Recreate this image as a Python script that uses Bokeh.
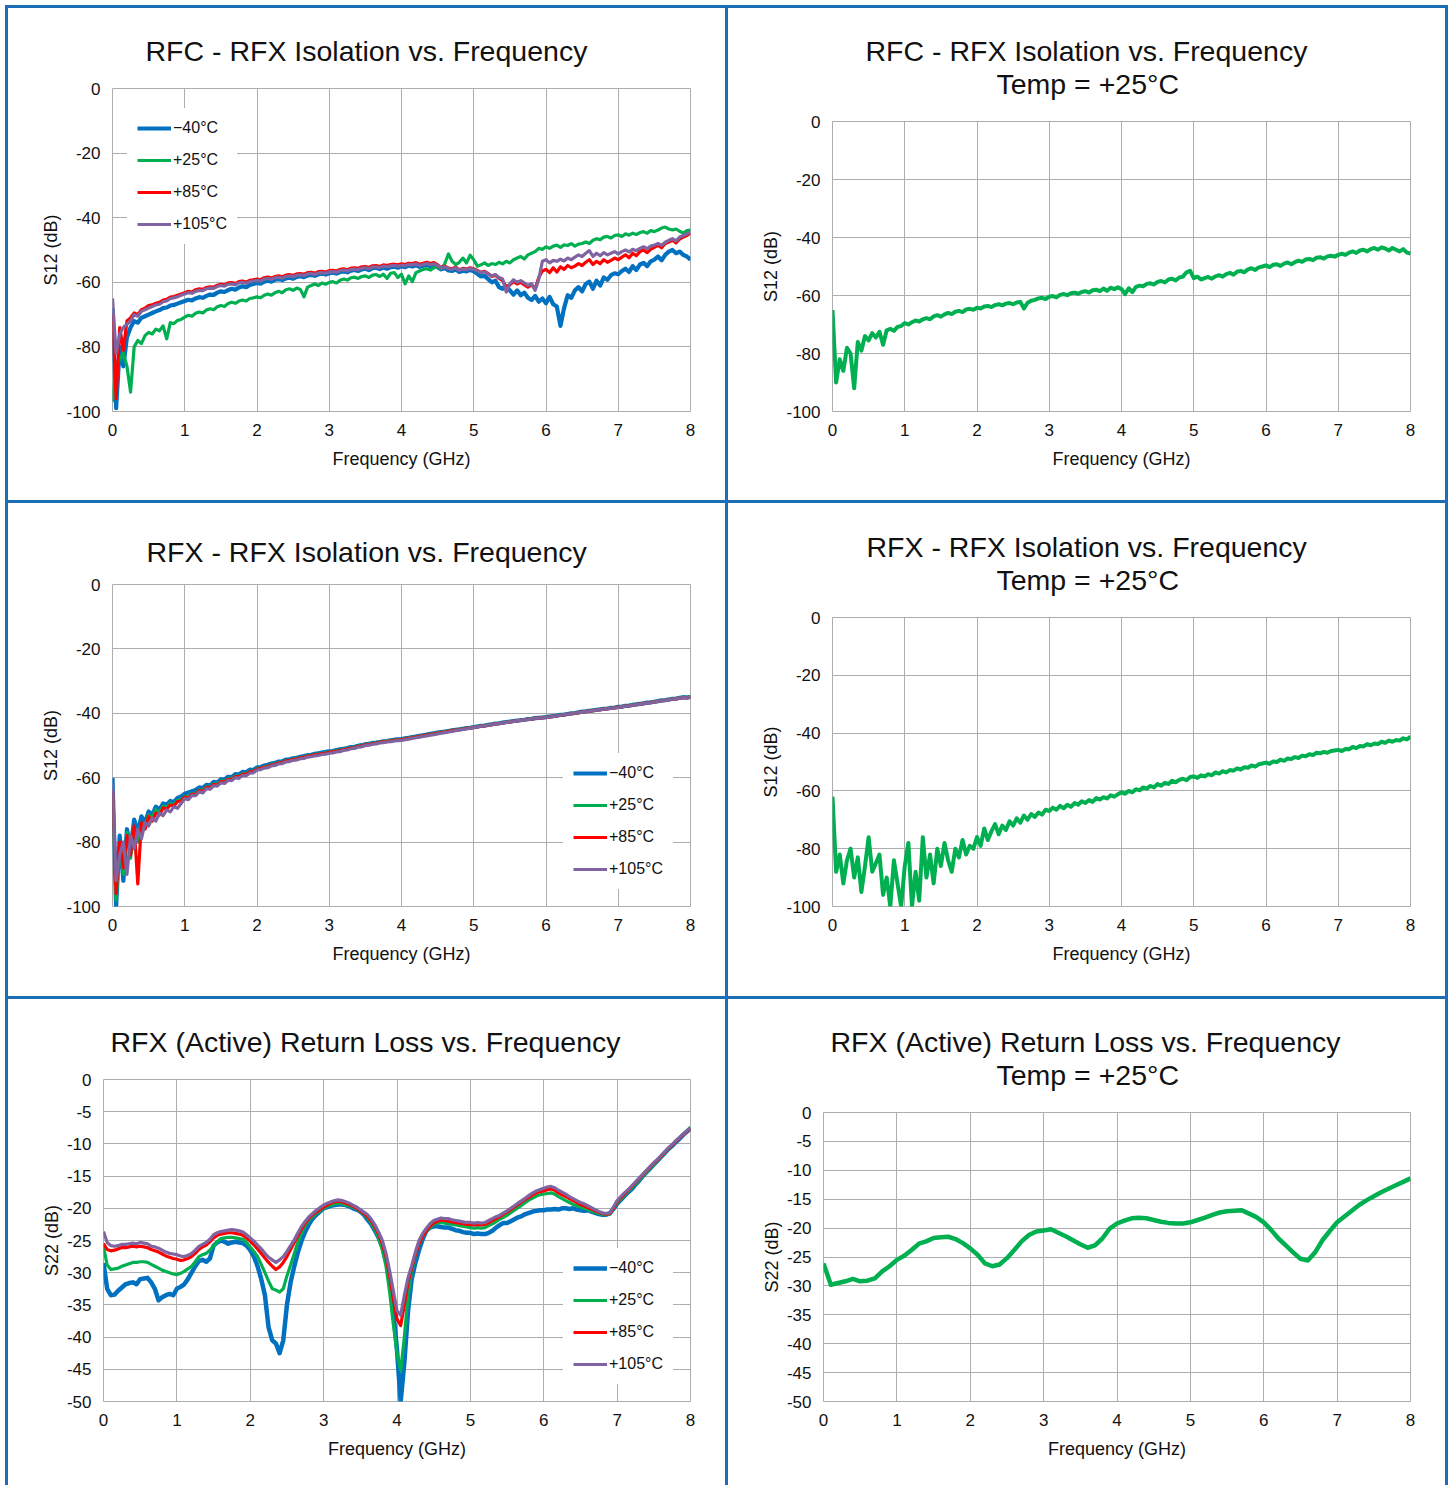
from bokeh.plotting import figure
from bokeh.models import Range1d, FixedTicker, Title
from bokeh.layouts import column, row
from bokeh.embed import file_html
from bokeh.resources import INLINE

# ---------------- data ----------------
FREQ_GHZ = [round(i * 0.05, 2) for i in range(161)]        # 0 .. 8 GHz, 50 MHz grid
FREQ_GHZ_COARSE = [round(i * 0.1, 1) for i in range(81)]   # 0 .. 8 GHz, 100 MHz grid

TEMP_LABELS = ["\u221240\u00b0C", "+25\u00b0C", "+85\u00b0C", "+105\u00b0C"]
TEMP_COLORS = ["#0070C0", "#00B050", "#FF0000", "#8064A2"]

X_TICKS = [0, 1, 2, 3, 4, 5, 6, 7, 8]
ISO_TICKS = [-100, -80, -60, -40, -20, 0]
RL_TICKS = [-50, -45, -40, -35, -30, -25, -20, -15, -10, -5, 0]

# RFC - RFX isolation, S12 (dB), all temperatures
RFC_ISO_M40 = [
    -68, -99, -80, -86, -77, -74, -72, -72.5, -71, -70.5, -70, -69.5, -69, -68.6, -68, -67.8, -67.2, -67, -66.6, -66.2,
    -65.8, -65.4, -65.6, -65.0, -64.6, -64.8, -64.2, -63.8, -63.9, -63.2, -62.8, -63.0, -62.4, -62.0, -62.3, -61.6, -61.2, -61.5, -60.8, -60.5,
    -60.2, -60.4, -59.8, -59.5, -59.8, -59.2, -59.0, -59.3, -58.8, -58.6, -58.9, -58.3, -58.1, -58.4, -57.9, -57.7, -58.0, -57.5, -57.3, -57.6,
    -57.2, -57.0, -57.3, -56.8, -56.6, -56.9, -56.4, -56.2, -56.5, -56.0, -55.8, -56.2, -55.6, -55.5, -55.9, -55.4, -55.8, -55.3, -55.2, -55.5,
    -55.0, -55.3, -54.8, -55.1, -54.7, -55.2, -54.9, -54.6, -55.0, -54.8, -55.3, -56.0, -55.6, -56.3, -56.5, -56.0, -56.8, -56.4, -56.6, -56.2,
    -56.6, -57.4, -58.2, -58.0, -59.0, -60.0, -59.5, -61.5, -62.0, -61.2, -62.5, -63.8, -62.5, -64.0, -63.2, -64.8, -65.5, -64.2, -66.0, -65.0,
    -66.5, -64.5, -66.8, -67.5, -73.5, -68.0, -64.0, -64.8, -62.5, -61.5, -62.8, -60.5, -59.8, -62.0, -59.5, -61.0, -58.5, -59.2, -57.8, -57.2,
    -57.5, -56.5, -55.8, -56.8, -55.0, -56.2, -54.5, -54.0, -55.0, -53.5, -53.0, -52.0, -53.2, -51.5, -50.5, -50.0, -51.0, -50.5, -51.5, -52.0,
    -53.0]
RFC_ISO_P25 = [
    -97, -85, -84, -82, -86, -94, -80, -78, -79, -76.5, -75.5, -76, -74.5, -75, -73.5, -77.5, -72.5, -72.8, -71.8, -71.5,
    -70.8, -70.2, -70.5, -69.6, -69.2, -69.5, -68.6, -68.2, -68.5, -67.6, -67.2, -67.5, -66.6, -66.2, -66.5, -65.8, -65.5, -65.8, -65.0, -64.8,
    -64.5, -64.8, -64.0, -63.6, -64.0, -63.2, -62.8, -63.2, -62.3, -62.0, -62.5, -61.8, -62.2, -64.5, -61.5, -61.0, -60.5, -61.0, -60.2, -60.6,
    -60.0, -59.8, -60.2, -59.4, -59.0, -59.3, -58.6, -58.4, -58.8, -58.2, -58.0, -58.5, -57.8, -57.6, -58.2, -57.5, -58.8, -57.2, -57.0, -58.5,
    -57.5, -60.5, -58.0, -59.8, -57.0, -56.5, -56.0, -55.8, -56.2, -55.5, -55.2, -55.8, -54.2, -51.2, -53.5, -54.5, -53.8, -52.5, -54.0, -51.6,
    -53.0, -55.0, -54.6, -54.0, -54.8, -54.2, -54.5, -53.8, -54.3, -53.5, -54.0, -53.0, -52.5, -52.0, -52.8, -51.5, -51.0, -50.5, -49.5, -49.8,
    -49.0, -49.5, -48.8, -48.5, -49.2, -48.4, -48.6, -48.0, -48.8, -48.2, -48.0, -47.5, -48.0, -47.0, -46.5, -46.8, -46.0, -45.8, -46.3, -45.5,
    -45.3, -45.8, -45.0, -45.4, -44.8, -45.2, -44.6, -44.3, -44.8, -44.0, -44.3, -43.8, -43.2, -42.9, -43.5, -43.8, -43.5, -44.2, -44.8, -44.0,
    -43.8]
RFC_ISO_P85 = [
    -70, -96, -74, -81, -72, -71, -69.5, -70, -68.5, -68, -67.2, -67, -66.5, -66.2, -65.5, -65.3, -64.6, -64.4, -64.0, -63.6,
    -63.2, -62.8, -63.0, -62.3, -62.0, -62.2, -61.6, -61.4, -61.5, -60.9, -60.6, -60.8, -60.2, -60.1, -60.4, -59.8, -59.6, -59.9, -59.4, -59.2,
    -59.0, -59.2, -58.6, -58.4, -58.7, -58.2, -58.0, -58.3, -57.8, -57.6, -57.9, -57.4, -57.3, -57.5, -57.0, -56.9, -57.2, -56.7, -56.6, -56.8,
    -56.4, -56.3, -56.5, -56.0, -55.8, -56.1, -55.6, -55.5, -55.7, -55.2, -55.1, -55.4, -54.9, -54.8, -55.1, -54.6, -54.8, -54.5, -54.4, -54.6,
    -54.3, -54.5, -54.1, -54.2, -53.9, -54.4, -54.1, -53.8, -54.2, -53.9, -54.6, -55.4, -55.0, -55.6, -55.8, -55.3, -56.1, -55.7, -55.9, -55.5,
    -55.8, -56.3, -56.9, -56.6, -57.3, -58.2, -57.8, -58.8, -59.5, -61.5, -60.8, -59.8, -60.5, -60.0, -60.8, -61.5, -60.8, -62.0, -58.5, -56.5,
    -56.0, -57.0, -55.5, -56.8, -55.2, -56.0, -54.8, -55.5, -55.0, -54.2, -54.8, -53.8, -53.0, -54.5, -53.5, -54.2, -53.0, -53.8, -53.2, -52.5,
    -53.0, -52.2, -51.5, -52.4, -51.0, -51.8, -50.5, -50.0, -50.8, -49.8, -49.2, -48.5, -49.3, -48.0, -47.5, -47.0, -47.8, -46.6, -46.0, -45.5,
    -44.8]
RFC_ISO_P105 = [
    -65, -82, -76, -74, -73, -72, -70, -70.5, -69, -68.5, -68, -67.5, -67, -66.8, -66, -65.8, -65, -64.8, -64.5, -64,
    -63.6, -63.2, -63.4, -62.8, -62.5, -62.6, -62.0, -61.8, -61.9, -61.3, -61.0, -61.2, -60.6, -60.5, -60.8, -60.2, -60.0, -60.3, -59.8, -59.6,
    -59.4, -59.6, -59.0, -58.8, -59.1, -58.6, -58.4, -58.7, -58.2, -58.0, -58.3, -57.8, -57.7, -57.9, -57.4, -57.3, -57.6, -57.1, -57.0, -57.2,
    -56.8, -56.7, -56.9, -56.4, -56.2, -56.5, -56.0, -55.9, -56.1, -55.6, -55.5, -55.8, -55.3, -55.2, -55.5, -55.0, -55.2, -54.9, -54.8, -55.0,
    -54.7, -54.9, -54.5, -54.6, -54.3, -54.8, -54.5, -54.2, -54.6, -54.3, -54.8, -55.6, -55.2, -55.8, -56.0, -55.5, -56.3, -55.9, -56.1, -55.7,
    -56.0, -56.5, -57.0, -56.8, -57.5, -58.0, -57.6, -58.5, -59.0, -63.0, -60.5, -59.2, -60.0, -59.5, -60.2, -61.0, -60.4, -62.5, -59.0, -53.5,
    -53.0, -54.0, -53.2, -53.5, -52.8, -53.4, -52.5, -53.0, -52.2, -51.5, -52.0, -51.0, -50.2, -52.0, -51.0, -51.8, -50.8, -51.5, -51.0, -50.5,
    -51.2, -50.5, -50.0, -50.6, -49.8, -50.2, -49.5, -49.0, -49.6, -48.8, -48.5, -48.0, -48.5, -47.6, -47.0, -46.5, -47.2, -46.0, -45.5, -45.0,
    -44.5]

# RFC - RFX isolation, +25 C
RFC_ISO_25C = [
    -65, -90, -82, -86, -78, -80, -92, -76, -79, -74, -75.5, -73, -74.5, -72.5, -77, -72, -71.5, -72.2, -70.8, -70.5,
    -69.5, -70.0, -69.2, -68.6, -69.0, -68.2, -67.8, -68.2, -67.2, -66.8, -67.3, -66.5, -66.0, -66.4, -65.6, -65.3, -65.7, -64.8, -64.6, -64.9,
    -64.2, -64.5, -63.8, -63.6, -64.0, -63.3, -63.0, -63.4, -62.8, -62.6, -63.0, -62.4, -62.2, -64.5, -62.5, -61.8, -61.5, -61.0, -60.8, -61.2,
    -60.4, -60.2, -60.6, -59.8, -59.5, -59.9, -59.2, -59.0, -59.4, -58.8, -58.5, -59.0, -58.2, -58.0, -58.5, -57.6, -58.4, -57.3, -57.8, -57.2,
    -57.8, -59.5, -57.5, -58.8, -57.0, -56.6, -56.8, -56.0, -55.8, -56.2, -55.3, -55.0, -55.5, -54.5, -54.2, -54.8, -53.8, -53.5, -52.0, -51.5,
    -54.0, -53.5, -54.5, -54.0, -53.6, -54.2, -53.4, -53.0, -53.5, -52.6, -52.2, -52.8, -51.8, -51.5, -52.0, -51.0, -50.6, -51.2, -50.3, -50.0,
    -49.6, -50.2, -49.4, -49.2, -49.8, -49.0, -48.6, -49.2, -48.5, -48.0, -48.4, -47.6, -47.4, -47.8, -47.0, -46.8, -47.3, -46.5, -46.3, -46.6,
    -46.0, -45.6, -46.0, -45.2, -44.8, -45.3, -44.5, -44.2, -44.8, -44.0, -43.6, -44.2, -43.4, -43.8, -44.5, -43.6, -44.2, -44.8, -44.0, -45.2,
    -45.5]

# RFX - RFX isolation, all temperatures
RFX_ISO_M40 = [
    -60, -100, -78, -92, -76, -82, -73, -77, -72, -74, -70.5, -71.5, -69, -70, -68, -68.3, -67.2, -67.6, -66.3, -65.8,
    -65.0, -64.6, -64.2, -63.8, -63.0, -63.2, -62.2, -62.4, -61.3, -61.5, -60.5, -60.6, -59.7, -59.8, -58.9, -59.0, -58.2, -58.3, -57.5, -57.6,
    -56.8, -56.7, -56.2, -56.0, -55.6, -55.4, -55.0, -54.9, -54.4, -54.3, -54.0, -53.8, -53.5, -53.3, -53.0, -52.9, -52.6, -52.4, -52.2, -52.0,
    -51.8, -51.7, -51.4, -51.2, -51.0, -50.8, -50.5, -50.4, -50.1, -49.9, -49.6, -49.5, -49.2, -49.1, -48.9, -48.7, -48.6, -48.4, -48.2, -48.1,
    -48.0, -47.8, -47.6, -47.4, -47.2, -47.0, -46.8, -46.6, -46.4, -46.2, -46.0, -45.8, -45.7, -45.5, -45.3, -45.1, -45.0, -44.8, -44.6, -44.5,
    -44.3, -44.1, -43.9, -43.8, -43.6, -43.4, -43.2, -43.1, -42.9, -42.7, -42.6, -42.4, -42.3, -42.1, -42.0, -41.8, -41.7, -41.5, -41.4, -41.3,
    -41.2, -41.0, -40.9, -40.7, -40.5, -40.4, -40.2, -40.0, -39.9, -39.7, -39.5, -39.4, -39.2, -39.1, -38.9, -38.8, -38.6, -38.5, -38.3, -38.2,
    -38.0, -37.9, -37.7, -37.6, -37.4, -37.2, -37.1, -36.9, -36.7, -36.6, -36.4, -36.2, -36.0, -35.9, -35.7, -35.5, -35.4, -35.2, -35.0, -35.1,
    -34.9]
RFX_ISO_P25 = [
    -66, -98, -82, -90, -77, -85, -76, -80, -74, -75, -71.5, -72.5, -70, -70.8, -68.8, -69.2, -68, -68.3, -67, -66.8,
    -65.8, -66.0, -64.9, -65.0, -63.8, -64.0, -62.8, -63.0, -61.9, -62.0, -61.0, -61.2, -60.2, -60.3, -59.4, -59.6, -58.7, -58.8, -58.0, -58.0,
    -57.2, -57.1, -56.6, -56.4, -55.9, -55.8, -55.3, -55.2, -54.7, -54.6, -54.2, -54.1, -53.7, -53.6, -53.2, -53.1, -52.8, -52.7, -52.4, -52.3,
    -52.0, -51.9, -51.6, -51.5, -51.2, -51.0, -50.7, -50.6, -50.2, -50.1, -49.7, -49.6, -49.3, -49.2, -48.9, -48.8, -48.6, -48.5, -48.3, -48.2,
    -48.1, -47.9, -47.7, -47.5, -47.3, -47.1, -46.9, -46.7, -46.5, -46.3, -46.1, -45.9, -45.7, -45.5, -45.3, -45.2, -45.0, -44.8, -44.6, -44.5,
    -44.3, -44.1, -44.0, -43.8, -43.6, -43.5, -43.3, -43.1, -43.0, -42.8, -42.6, -42.5, -42.3, -42.1, -42.0, -41.9, -41.7, -41.6, -41.5, -41.3,
    -41.2, -41.1, -40.9, -40.8, -40.6, -40.4, -40.3, -40.1, -39.9, -39.8, -39.6, -39.4, -39.3, -39.1, -39.0, -38.8, -38.7, -38.5, -38.4, -38.2,
    -38.1, -37.9, -37.8, -37.6, -37.4, -37.3, -37.1, -36.9, -36.8, -36.6, -36.4, -36.3, -36.1, -35.9, -35.8, -35.6, -35.4, -35.3, -35.1, -35.0,
    -35.0]
RFX_ISO_P85 = [
    -64, -96, -80, -88, -78, -84, -75, -93, -74, -76, -72, -73.5, -71, -71.6, -69.4, -69.8, -68.5, -68.8, -67.4, -67.2,
    -66.0, -66.3, -65.1, -65.3, -64.0, -64.3, -63.0, -63.2, -62.1, -62.3, -61.2, -61.4, -60.4, -60.6, -59.6, -59.8, -58.9, -59.0, -58.2, -58.1,
    -57.3, -57.2, -56.7, -56.6, -56.0, -55.9, -55.4, -55.3, -54.8, -54.7, -54.3, -54.2, -53.8, -53.7, -53.3, -53.2, -52.9, -52.8, -52.5, -52.4,
    -52.1, -52.0, -51.7, -51.6, -51.3, -51.1, -50.8, -50.7, -50.3, -50.2, -49.8, -49.7, -49.4, -49.3, -49.0, -48.9, -48.7, -48.6, -48.4, -48.3,
    -48.2, -48.0, -47.8, -47.6, -47.4, -47.2, -47.0, -46.8, -46.6, -46.4, -46.2, -46.0, -45.8, -45.6, -45.4, -45.2, -45.1, -44.9, -44.7, -44.6,
    -44.4, -44.2, -44.0, -43.9, -43.7, -43.5, -43.3, -43.2, -43.0, -42.8, -42.7, -42.5, -42.3, -42.2, -42.0, -41.9, -41.8, -41.6, -41.5, -41.4,
    -41.3, -41.1, -41.0, -40.8, -40.6, -40.5, -40.3, -40.1, -40.0, -39.8, -39.6, -39.5, -39.3, -39.2, -39.0, -38.9, -38.7, -38.6, -38.4, -38.3,
    -38.1, -38.0, -37.8, -37.6, -37.5, -37.3, -37.1, -37.0, -36.8, -36.6, -36.5, -36.3, -36.1, -36.0, -35.8, -35.6, -35.5, -35.3, -35.1, -35.2,
    -35.0]
RFX_ISO_P105 = [
    -62, -92, -84, -80, -90, -78, -82, -76, -79, -74, -75, -72.5, -73.5, -71, -71.8, -70, -70.6, -69, -69.5, -68,
    -66.5, -66.8, -65.5, -65.6, -64.4, -64.7, -63.4, -63.6, -62.5, -62.6, -61.6, -61.8, -60.8, -60.9, -60.0, -60.2, -59.3, -59.4, -58.6, -58.5,
    -57.6, -57.5, -57.0, -56.9, -56.3, -56.2, -55.7, -55.6, -55.1, -55.0, -54.6, -54.5, -54.1, -54.0, -53.6, -53.5, -53.2, -53.1, -52.8, -52.7,
    -52.4, -52.3, -52.0, -51.9, -51.5, -51.4, -51.0, -50.9, -50.5, -50.4, -50.0, -49.9, -49.6, -49.5, -49.2, -49.1, -48.9, -48.8, -48.6, -48.5,
    -48.4, -48.2, -48.0, -47.8, -47.6, -47.4, -47.2, -47.0, -46.8, -46.6, -46.4, -46.2, -46.0, -45.8, -45.6, -45.4, -45.2, -45.0, -44.8, -44.6,
    -44.4, -44.2, -44.0, -43.9, -43.7, -43.5, -43.3, -43.2, -43.0, -42.8, -42.7, -42.5, -42.3, -42.2, -42.0, -41.9, -41.8, -41.6, -41.5, -41.4,
    -41.3, -41.2, -41.0, -40.8, -40.6, -40.5, -40.3, -40.1, -39.9, -39.8, -39.6, -39.5, -39.3, -39.2, -39.0, -38.9, -38.7, -38.6, -38.4, -38.3,
    -38.2, -38.0, -37.8, -37.7, -37.5, -37.3, -37.2, -37.0, -36.8, -36.7, -36.5, -36.3, -36.1, -36.0, -35.8, -35.6, -35.5, -35.3, -35.1, -35.2,
    -35.0]

# RFX - RFX isolation, +25 C
RFX_ISO_25C = [
    -62, -88, -82, -92, -84, -80, -90, -83, -95, -86, -76, -88, -85, -82, -96, -90, -100, -84, -92, -100,
    -86, -78, -100, -88, -98, -76, -90, -82, -92, -80, -86, -78, -84, -88, -80, -83, -77, -82, -79, -80,
    -76, -79, -73, -77, -74, -71.5, -75, -72, -73.5, -70.5, -72, -69.5, -71, -68.5, -70, -68, -69, -67.5, -68.2, -66.5,
    -67, -65.8, -66.5, -65.2, -66, -64.8, -65.5, -64.2, -64.8, -63.6, -64.2, -63.2, -63.8, -62.5, -63, -62.2, -62.6, -61.5, -62, -61.2,
    -60.5, -61, -60, -60.5, -59.4, -59.8, -58.8, -59.2, -58.3, -58.8, -57.6, -58.2, -57.2, -57.6, -56.5, -57, -56.2, -55.8, -56.3, -55.2,
    -55.0, -55.5, -54.6, -55.0, -54.2, -54.6, -53.6, -54.0, -53.2, -53.6, -52.8, -53.0, -52.2, -52.6, -51.8, -52.0, -51.2, -51.6, -50.8, -50.5,
    -50.2, -50.6, -49.8, -50.0, -49.2, -49.6, -48.8, -49.0, -48.3, -48.6, -47.8, -48.0, -47.3, -47.6, -46.8, -47.0, -46.5, -46.8, -46.2, -46.0,
    -45.8, -46.2, -45.5, -45.6, -44.8, -45.2, -44.5, -44.6, -43.8, -44.2, -43.6, -43.8, -43.0, -43.4, -42.6, -43.0, -42.4, -42.6, -41.8, -42.2,
    -41.2]

# RFX (active) return loss, S22 (dB), all temperatures
RL_M40 = [
    -28.5, -32.5, -33.5, -33.4, -32.8, -32.3, -31.8, -31.6, -31.5, -31.8, -31.0, -30.9, -30.8, -31.5, -32.5, -34.3, -33.8, -33.5, -33.3, -33.5,
    -32.5, -32.2, -31.8, -31.0, -30.0, -29.0, -28.2, -28.0, -28.3, -27.8, -25.8, -25.3, -25.0, -25.2, -25.5, -25.3, -25.2, -25.3, -25.4, -25.8,
    -26.5, -27.5, -29.0, -31.0, -33.5, -38.5, -40.5, -41.0, -42.5, -40.5, -35.0, -31.5, -29.0, -26.8, -25.0, -23.6, -22.5, -21.6, -21.0, -20.5,
    -20.0, -19.8, -19.6, -19.5, -19.4, -19.4, -19.5, -19.7, -20.0, -20.2, -20.5, -21.0, -21.8, -22.5, -23.5, -24.6, -26.0, -28.0, -31.0, -36.0,
    -42.0, -50.0, -44.0, -36.0, -31.0, -28.5, -26.5, -24.8, -23.5, -23.0, -22.8, -22.8, -22.9, -23.0, -23.0, -23.2, -23.4, -23.5, -23.7, -23.8,
    -23.8, -24.0, -23.9, -24.0, -24.0, -23.8, -23.5, -23.0, -22.6, -22.3, -22.3, -22.0, -21.7, -21.4, -21.2, -20.9, -20.7, -20.5, -20.4, -20.3,
    -20.3, -20.2, -20.2, -20.1, -20.2, -20.0, -20.0, -20.1, -20.0, -20.2, -20.3, -20.4, -20.3, -20.5, -20.7, -20.9, -21.0, -21.0, -20.8, -20.1,
    -19.3, -18.7, -18.1, -17.5, -17.0, -16.3, -15.7, -15.0, -14.4, -13.8, -13.2, -12.6, -12.0, -11.4, -10.8, -10.3, -9.7, -9.2, -8.6, -8.1,
    -7.6]
RL_P25 = [
    -26.0, -28.8, -29.5, -29.4, -29.3, -29.0, -28.8, -28.6, -28.4, -28.4, -28.3, -28.3, -28.4, -28.7, -29.0, -29.3, -29.6, -29.8, -30.0, -30.2,
    -30.3, -30.1, -29.8, -29.4, -29.0, -28.3, -27.5, -27.2, -27.0, -26.5, -25.8, -25.2, -24.7, -24.6, -24.5, -24.5, -24.6, -24.7, -24.8, -25.3,
    -26.0, -26.7, -27.5, -28.7, -30.0, -31.3, -32.5, -32.7, -33.0, -32.5, -30.5, -28.8, -27.0, -25.2, -23.8, -22.7, -21.8, -21.3, -20.8, -20.4,
    -20.0, -19.7, -19.5, -19.3, -19.2, -19.3, -19.5, -19.6, -19.8, -20.1, -20.5, -20.9, -21.5, -22.3, -23.3, -24.6, -26.5, -29.0, -33.0, -38.0,
    -42.5, -45.2, -40.0, -33.5, -29.8, -27.3, -25.6, -24.4, -23.6, -23.0, -22.5, -22.3, -22.2, -22.3, -22.4, -22.5, -22.6, -22.7, -22.8, -22.9,
    -23.0, -23.1, -23.0, -23.1, -23.0, -22.7, -22.4, -22.1, -21.7, -21.4, -21.1, -20.7, -20.3, -19.9, -19.5, -19.1, -18.7, -18.4, -18.1, -17.9,
    -17.8, -17.7, -17.6, -17.8, -18.2, -18.5, -18.8, -19.1, -19.4, -19.6, -19.8, -20.0, -20.2, -20.4, -20.6, -20.8, -20.9, -21.0, -20.9, -20.1,
    -19.2, -18.6, -18.0, -17.4, -16.8, -16.2, -15.6, -15.0, -14.4, -13.8, -13.2, -12.6, -12.0, -11.4, -10.8, -10.2, -9.6, -9.1, -8.5, -8.0,
    -7.4]
RL_P85 = [
    -25.5, -26.4, -26.6, -26.5, -26.3, -26.1, -26.1, -26.0, -25.9, -26.0, -25.9, -26.0, -26.1, -26.4, -26.6, -26.8, -27.1, -27.4, -27.6, -27.8,
    -27.9, -28.1, -28.0, -27.8, -27.5, -27.0, -26.4, -26.0, -25.7, -25.2, -24.6, -24.2, -24.0, -23.9, -23.8, -23.8, -23.9, -24.0, -24.2, -24.6,
    -25.1, -25.7, -26.3, -27.0, -27.7, -28.4, -29.0, -29.5, -29.1, -28.4, -27.5, -26.4, -25.3, -24.2, -23.2, -22.3, -21.5, -21.0, -20.6, -20.2,
    -19.8, -19.5, -19.2, -19.0, -18.9, -19.0, -19.2, -19.4, -19.7, -20.0, -20.4, -20.8, -21.3, -22.0, -22.9, -24.0, -25.5, -27.5, -30.5, -34.0,
    -37.2, -38.2, -35.0, -31.5, -29.3, -27.2, -25.5, -24.3, -23.5, -22.8, -22.3, -22.0, -21.8, -21.9, -22.0, -22.1, -22.2, -22.3, -22.4, -22.5,
    -22.5, -22.6, -22.5, -22.6, -22.5, -22.2, -21.9, -21.6, -21.3, -20.9, -20.6, -20.2, -19.8, -19.4, -19.0, -18.6, -18.3, -17.9, -17.6, -17.4,
    -17.3, -17.1, -17.0, -17.2, -17.6, -17.9, -18.2, -18.5, -18.8, -19.1, -19.4, -19.6, -19.9, -20.1, -20.4, -20.6, -20.8, -20.9, -20.8, -20.0,
    -19.0, -18.4, -17.8, -17.2, -16.6, -16.0, -15.4, -14.8, -14.2, -13.6, -13.0, -12.5, -11.9, -11.3, -10.7, -10.2, -9.6, -9.1, -8.6, -8.1,
    -7.6]
RL_P105 = [
    -23.6, -25.3, -25.8, -25.9, -25.8, -25.6, -25.6, -25.5, -25.4, -25.5, -25.3, -25.4, -25.5, -25.9, -26.0, -26.2, -26.5, -26.8, -27.0, -27.1,
    -27.2, -27.4, -27.5, -27.3, -27.0, -26.5, -25.9, -25.6, -25.3, -24.8, -24.1, -23.8, -23.6, -23.5, -23.4, -23.3, -23.4, -23.5, -23.7, -24.1,
    -24.6, -25.1, -25.7, -26.3, -27.0, -27.6, -28.0, -28.4, -28.0, -27.5, -26.7, -25.8, -24.9, -23.8, -22.8, -22.0, -21.3, -20.8, -20.3, -19.9,
    -19.5, -19.2, -19.0, -18.8, -18.7, -18.8, -19.0, -19.2, -19.5, -19.8, -20.2, -20.6, -21.0, -21.7, -22.6, -23.7, -25.0, -27.0, -29.7, -32.8,
    -35.9, -36.6, -33.5, -30.8, -28.9, -26.8, -25.0, -23.9, -23.1, -22.4, -21.9, -21.7, -21.5, -21.6, -21.6, -21.8, -21.9, -22.0, -22.1, -22.2,
    -22.2, -22.3, -22.2, -22.3, -22.2, -21.9, -21.6, -21.3, -21.1, -20.7, -20.4, -20.0, -19.6, -19.2, -18.8, -18.4, -18.0, -17.6, -17.3, -17.1,
    -16.9, -16.7, -16.6, -16.8, -17.2, -17.5, -17.8, -18.2, -18.5, -18.8, -19.1, -19.3, -19.6, -19.9, -20.2, -20.5, -20.7, -20.8, -20.7, -19.8,
    -18.8, -18.2, -17.6, -17.1, -16.5, -15.9, -15.3, -14.7, -14.1, -13.5, -12.9, -12.4, -11.8, -11.2, -10.6, -10.1, -9.5, -9.0, -8.5, -8.0,
    -7.5]

# RFX (active) return loss, +25 C
RL_25C = [
    -26.1, -29.8, -29.5, -29.2, -28.8, -29.2, -29.1, -28.7, -27.5, -26.6,
    -25.5, -24.8, -23.8, -22.7, -22.3, -21.7, -21.6, -21.5, -21.9, -22.6,
    -23.5, -24.6, -26.1, -26.6, -26.3, -25.2, -23.8, -22.3, -21.2, -20.6,
    -20.4, -20.2, -20.8, -21.4, -22.1, -22.8, -23.4, -23.0, -21.8, -20.1,
    -19.2, -18.7, -18.3, -18.2, -18.3, -18.6, -18.9, -19.1, -19.2, -19.2,
    -19.0, -18.6, -18.2, -17.7, -17.3, -17.1, -17.0, -16.9, -17.5, -18.1,
    -19.0, -20.3, -21.8, -23.0, -24.2, -25.3, -25.6, -24.2, -22.1, -20.5,
    -19.0, -18.0, -17.0, -16.0, -15.2, -14.5, -13.8, -13.2, -12.6, -12.0,
    -11.4]

for _name, _arr in [("RFC_ISO_M40", RFC_ISO_M40), ("RFC_ISO_P25", RFC_ISO_P25), ("RFC_ISO_P85", RFC_ISO_P85),
                    ("RFC_ISO_P105", RFC_ISO_P105), ("RFC_ISO_25C", RFC_ISO_25C), ("RFX_ISO_M40", RFX_ISO_M40),
                    ("RFX_ISO_P25", RFX_ISO_P25), ("RFX_ISO_P85", RFX_ISO_P85), ("RFX_ISO_P105", RFX_ISO_P105),
                    ("RFX_ISO_25C", RFX_ISO_25C), ("RL_M40", RL_M40), ("RL_P25", RL_P25), ("RL_P85", RL_P85),
                    ("RL_P105", RL_P105)]:
    assert len(_arr) == len(FREQ_GHZ), (_name, len(_arr))
assert len(RL_25C) == len(FREQ_GHZ_COARSE)

# ---------------- styling ----------------
FONT = "Liberation Sans"
GRID = "#ADADAD"
FRAME_BLUE = "#1B6EB5"
TEXT = "#111111"
TITLE_SIZE = "28.5px"
CAP_MID = 14.5      # distance from a title's text box bottom to the middle of its capitals
ORIGIN = (5, 5)     # page position of the top-left panel


def shadow(left, top, right, bottom):
    parts = []
    if left:
        parts.append(f"inset {left}px 0 0 0 {FRAME_BLUE}")
    if top:
        parts.append(f"inset 0 {top}px 0 0 {FRAME_BLUE}")
    if right:
        parts.append(f"inset -{right}px 0 0 0 {FRAME_BLUE}")
    if bottom:
        parts.append(f"inset 0 -{bottom}px 0 0 {FRAME_BLUE}")
    return ", ".join(parts)


def add_title(p, text, left, standoff):
    p.add_layout(Title(text=text, align="left", offset=left, standoff=standoff,
                       text_font=FONT, text_font_size=TITLE_SIZE, text_font_style="normal",
                       text_color=TEXT), "above")


def make_panel(box, frame, y_ticks, y_label, titles, series, legend_xy=None, edges=(0, 0, 0, 0)):
    fx, fy, W, H = box
    fl, fr, ft, fb = frame
    p = figure(width=W, height=H, output_backend="svg", toolbar_location=None, tools="", title=None,
               x_range=Range1d(0, 8), y_range=Range1d(y_ticks[0], y_ticks[-1]),
               min_border_left=fl - fx, min_border_right=fx + W - fr,
               min_border_top=ft - fy, min_border_bottom=fy + H - fb,
               frame_align=False,
               styles={"box-shadow": shadow(*edges)})
    p.border_fill_color = None
    p.background_fill_color = None
    p.outline_line_color = GRID
    p.outline_line_width = 1

    for ax, ticks, lab in ((p.xaxis, X_TICKS, "Frequency (GHz)"), (p.yaxis, y_ticks, y_label)):
        ax.ticker = FixedTicker(ticks=ticks)
        ax.major_label_overrides = {t: str(t) for t in ticks}
        ax.axis_label = lab
        ax.axis_label_text_font = FONT
        ax.axis_label_text_font_size = "18px"
        ax.axis_label_text_font_style = "normal"
        ax.axis_label_text_color = TEXT
        ax.major_label_text_font = FONT
        ax.major_label_text_font_size = "17px"
        ax.major_label_text_color = TEXT
        ax.axis_line_color = None
        ax.major_tick_line_color = None
        ax.minor_tick_line_color = None
        ax.major_tick_out = 0
        ax.major_tick_in = 0
    p.yaxis.major_label_standoff = 12
    p.yaxis.axis_label_standoff = 2
    p.xaxis.major_label_standoff = 12
    p.xaxis.axis_label_standoff = 10

    p.xgrid.ticker = FixedTicker(ticks=X_TICKS)
    p.ygrid.ticker = FixedTicker(ticks=y_ticks)
    for g in (p.xgrid, p.ygrid):
        g.grid_line_color = GRID
        g.grid_line_width = 1

    for xs, ys, color, lw, lab in series:
        kw = dict(legend_label=lab) if lab else {}
        p.line(xs, ys, line_color=color, line_width=lw, line_join="round", **kw)

    if legend_xy is not None:
        lg = p.legend[0]
        lg.location = legend_xy
        lg.padding = 10
        lg.spacing = 12
        lg.glyph_width = 34
        lg.glyph_height = 20
        lg.label_height = 20
        lg.label_standoff = 2
        lg.label_text_font = FONT
        lg.label_text_font_size = "16px"
        lg.label_text_color = TEXT
        lg.border_line_color = "white"
        lg.border_line_alpha = 0.0
        lg.background_fill_color = "white"
        lg.background_fill_alpha = 1.0

    # titles: (text, page x of left edge, page y of text middle); the lowest line is laid out first
    last_text, last_left, last_y = titles[-1]
    s_last = 2 * (ft - last_y - CAP_MID)
    add_title(p, last_text, last_left - fl, s_last)
    if len(titles) == 2:
        first_text, first_left, first_y = titles[0]
        gap = last_y - first_y
        add_title(p, first_text, first_left - fl, 2 * (gap - 33.5) - s_last)
    return p


def four(xs, arrays, widths):
    return [(xs, a, c, w, l) for a, c, w, l in zip(arrays, TEMP_COLORS, widths, TEMP_LABELS)]


W_MULTI = [4.2, 3.2, 3.2, 3.2]
GREEN = TEMP_COLORS[1]
X0, Y0 = ORIGIN
COL_W = (727 - X0, 1448 - 727)
ROW_Y = (Y0, 501, 997)
ROW_H = (501 - Y0, 997 - 501, 1485 - 997)

p1 = make_panel((X0, ROW_Y[0], COL_W[0], ROW_H[0]), (112, 690, 88, 411), ISO_TICKS, "S12 (dB)",
                [("RFC - RFX Isolation vs. Frequency", 145, 52)],
                four(FREQ_GHZ, [RFC_ISO_M40, RFC_ISO_P25, RFC_ISO_P85, RFC_ISO_P105], W_MULTI),
                legend_xy=(15, 167), edges=(3, 3, 2, 1))
p2 = make_panel((727, ROW_Y[0], COL_W[1], ROW_H[0]), (832, 1410, 121, 411), ISO_TICKS, "S12 (dB)",
                [("RFC - RFX Isolation vs. Frequency", 865, 52), ("Temp = +25\u00b0C", 996, 85)],
                [(FREQ_GHZ, RFC_ISO_25C, GREEN, 4, None)], edges=(1, 3, 3, 1))
p3 = make_panel((X0, ROW_Y[1], COL_W[0], ROW_H[1]), (112, 690, 584, 906), ISO_TICKS, "S12 (dB)",
                [("RFX - RFX Isolation vs. Frequency", 146, 553)],
                four(FREQ_GHZ, [RFX_ISO_M40, RFX_ISO_P25, RFX_ISO_P85, RFX_ISO_P105], W_MULTI),
                legend_xy=(451, 17), edges=(3, 2, 2, 1))
p4 = make_panel((727, ROW_Y[1], COL_W[1], ROW_H[1]), (832, 1410, 617, 906), ISO_TICKS, "S12 (dB)",
                [("RFX - RFX Isolation vs. Frequency", 866, 548), ("Temp = +25\u00b0C", 996, 581)],
                [(FREQ_GHZ, RFX_ISO_25C, GREEN, 4, None)], edges=(1, 2, 3, 1))
p5 = make_panel((X0, ROW_Y[2], COL_W[0], ROW_H[2]), (103, 690, 1079, 1401), RL_TICKS, "S22 (dB)",
                [("RFX (Active) Return Loss vs. Frequency", 110, 1043)],
                four(FREQ_GHZ, [RL_M40, RL_P25, RL_P85, RL_P105], [4.5, 3.2, 3.2, 3.2]),
                legend_xy=(460, 17), edges=(3, 2, 2, 0))
p6 = make_panel((727, ROW_Y[2], COL_W[1], ROW_H[2]), (823, 1410, 1112, 1401), RL_TICKS, "S22 (dB)",
                [("RFX (Active) Return Loss vs. Frequency", 830, 1043), ("Temp = +25\u00b0C", 996, 1076)],
                [(FREQ_GHZ_COARSE, RL_25C, GREEN, 4.5, None)], edges=(1, 2, 3, 0))

layout = column(row(p1, p2, spacing=0), row(p3, p4, spacing=0), row(p5, p6, spacing=0),
                spacing=0, margin=(Y0, 0, 0, X0))

open("out.html", "w").write(file_html(layout, INLINE, title="Typical performance"))
